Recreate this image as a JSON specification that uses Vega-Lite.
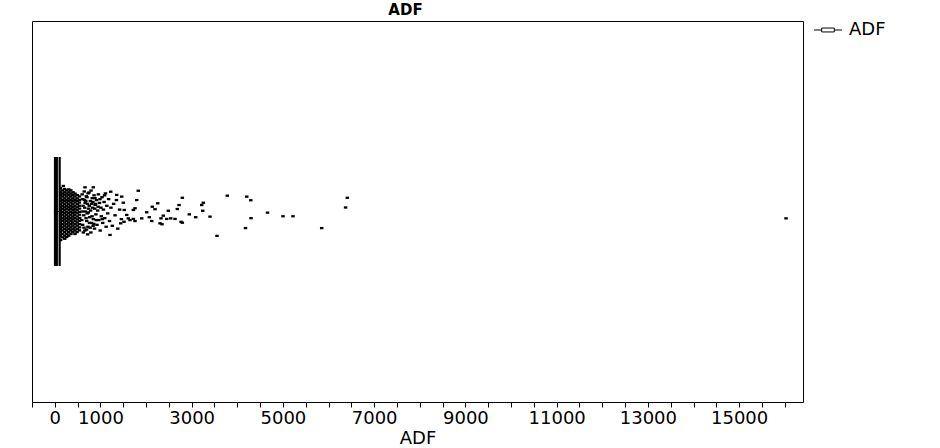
{
  "$schema": "https://vega.github.io/schema/vega-lite/v6.json",
  "width": 771,
  "height": 381,
  "autosize": {"type": "none"},
  "padding": {"left": 32, "top": 21, "right": 137, "bottom": 46},
  "background": "white",
  "title": {"text": "ADF", "font": "DejaVu Sans", "fontSize": 15, "fontWeight": "bold", "color": "black", "anchor": "middle", "offset": 3, "dx": -12},
  "config": {
    "view": {"stroke": "black", "strokeWidth": 1},
    "axis": {"grid": false}
  },
  "datasets": {
    "box": [{"v": -20, "v2": 130, "ylo": -0.286, "yhi": 0.286, "med": 0, "s": "ADF"}],
    "pts": [
      {"v":35,"j":0.118},{"v":35,"j":0.101},{"v":35,"j":0.086},{"v":35,"j":0.069},{"v":35,"j":0.055},{"v":35,"j":0.038},{"v":35,"j":0.022},{"v":35,"j":0.007},{"v":35,"j":-0.009},{"v":35,"j":-0.026},{"v":35,"j":-0.041},{"v":35,"j":-0.058},{"v":35,"j":-0.074},{"v":35,"j":-0.091},{"v":35,"j":-0.108},{"v":35,"j":-0.127},{"v":35,"j":-0.145},
      {"v":80,"j":0.111},{"v":80,"j":0.094},{"v":80,"j":0.079},{"v":80,"j":0.061},{"v":80,"j":0.047},{"v":80,"j":0.030},{"v":80,"j":0.015},{"v":80,"j":-0.002},{"v":80,"j":-0.017},{"v":80,"j":-0.034},{"v":80,"j":-0.049},{"v":80,"j":-0.066},{"v":80,"j":-0.083},{"v":80,"j":-0.099},{"v":80,"j":-0.118},{"v":80,"j":-0.136},
      {"v":125,"j":0.122},{"v":128,"j":0.101},{"v":122,"j":0.086},{"v":126,"j":0.069},{"v":130,"j":0.055},{"v":124,"j":0.038},{"v":125,"j":0.022},{"v":127,"j":0.007},{"v":121,"j":-0.009},{"v":125,"j":-0.026},{"v":129,"j":-0.041},{"v":123,"j":-0.058},{"v":125,"j":-0.074},{"v":126,"j":-0.091},{"v":124,"j":-0.108},{"v":125,"j":-0.127},{"v":128,"j":-0.150},
      {"v":170,"j":0.111},{"v":172,"j":0.094},{"v":168,"j":0.079},{"v":170,"j":0.061},{"v":173,"j":0.047},{"v":169,"j":0.030},{"v":170,"j":0.015},{"v":171,"j":-0.002},{"v":167,"j":-0.017},{"v":170,"j":-0.034},{"v":174,"j":-0.049},{"v":170,"j":-0.066},{"v":168,"j":-0.083},{"v":170,"j":-0.099},{"v":172,"j":-0.118},{"v":170,"j":-0.136},
      {"v":215,"j":0.118},{"v":218,"j":0.101},{"v":212,"j":0.086},{"v":215,"j":0.069},{"v":217,"j":0.055},{"v":214,"j":0.038},{"v":215,"j":0.022},{"v":219,"j":0.007},{"v":213,"j":-0.009},{"v":215,"j":-0.026},{"v":216,"j":-0.041},{"v":212,"j":-0.058},{"v":215,"j":-0.074},{"v":218,"j":-0.091},{"v":214,"j":-0.108},{"v":215,"j":-0.127},{"v":217,"j":-0.143},
      {"v":260,"j":0.111},{"v":262,"j":0.094},{"v":258,"j":0.079},{"v":260,"j":0.061},{"v":263,"j":0.047},{"v":259,"j":0.030},{"v":260,"j":0.015},{"v":261,"j":-0.002},{"v":257,"j":-0.017},{"v":260,"j":-0.034},{"v":264,"j":-0.049},{"v":260,"j":-0.066},{"v":258,"j":-0.083},{"v":260,"j":-0.099},{"v":262,"j":-0.118},{"v":260,"j":-0.134},
      {"v":305,"j":0.116},{"v":308,"j":0.101},{"v":302,"j":0.086},{"v":305,"j":0.069},{"v":307,"j":0.055},{"v":304,"j":0.038},{"v":305,"j":0.022},{"v":309,"j":0.007},{"v":303,"j":-0.009},{"v":305,"j":-0.026},{"v":306,"j":-0.041},{"v":302,"j":-0.058},{"v":305,"j":-0.074},{"v":308,"j":-0.091},{"v":304,"j":-0.108},{"v":305,"j":-0.127},
      {"v":350,"j":0.111},{"v":352,"j":0.094},{"v":348,"j":0.079},{"v":350,"j":0.061},{"v":353,"j":0.047},{"v":349,"j":0.030},{"v":350,"j":0.015},{"v":351,"j":-0.002},{"v":347,"j":-0.017},{"v":350,"j":-0.034},{"v":354,"j":-0.049},{"v":350,"j":-0.066},{"v":348,"j":-0.083},{"v":350,"j":-0.099},{"v":352,"j":-0.118},
      {"v":398,"j":0.101},{"v":392,"j":0.086},{"v":395,"j":0.069},{"v":397,"j":0.055},{"v":394,"j":0.038},{"v":395,"j":0.022},{"v":399,"j":0.007},{"v":393,"j":-0.009},{"v":395,"j":-0.026},{"v":396,"j":-0.041},{"v":392,"j":-0.058},{"v":395,"j":-0.074},{"v":398,"j":-0.091},{"v":394,"j":-0.108},
      {"v":442,"j":0.094},{"v":438,"j":0.079},{"v":440,"j":0.061},{"v":443,"j":0.047},{"v":439,"j":0.030},{"v":440,"j":0.015},{"v":441,"j":-0.002},{"v":437,"j":-0.017},{"v":440,"j":-0.034},{"v":444,"j":-0.049},{"v":440,"j":-0.066},{"v":438,"j":-0.083},{"v":440,"j":-0.099},{"v":442,"j":-0.118},
      {"v":492,"j":0.086},{"v":488,"j":0.069},{"v":490,"j":0.055},{"v":494,"j":0.038},{"v":490,"j":0.022},{"v":487,"j":0.007},{"v":491,"j":-0.009},{"v":490,"j":-0.026},{"v":493,"j":-0.041},{"v":489,"j":-0.058},{"v":490,"j":-0.074},{"v":492,"j":-0.091},{"v":488,"j":-0.108},
      {"v":540,"j":0.079},{"v":543,"j":0.061},{"v":538,"j":0.047},{"v":540,"j":0.030},{"v":542,"j":0.015},{"v":539,"j":-0.002},{"v":540,"j":-0.017},{"v":544,"j":-0.034},{"v":538,"j":-0.049},{"v":540,"j":-0.066},{"v":541,"j":-0.083},{"v":539,"j":-0.099},
      {"v":600,"j":0.09},{"v":610,"j":-0.07},{"v":620,"j":0.03},{"v":635,"j":-0.02},{"v":650,"j":0.06},{"v":660,"j":-0.10},{"v":670,"j":0.0},{"v":690,"j":0.08},{"v":700,"j":-0.05},{"v":715,"j":0.04},{"v":725,"j":-0.08},{"v":740,"j":0.015},{"v":750,"j":0.10},{"v":765,"j":-0.03},{"v":780,"j":0.055},{"v":790,"j":-0.11},{"v":805,"j":-0.06},{"v":820,"j":0.07},{"v":830,"j":0.02},{"v":845,"j":-0.04},{"v":860,"j":0.085},{"v":870,"j":-0.09},{"v":885,"j":0.035},{"v":900,"j":-0.015},{"v":915,"j":0.06},{"v":925,"j":-0.07},{"v":940,"j":0.005},{"v":955,"j":0.09},{"v":965,"j":-0.045},{"v":980,"j":0.045},{"v":995,"j":-0.10},{"v":1010,"j":0.02},{"v":1020,"j":-0.025},{"v":1035,"j":0.075},{"v":1050,"j":-0.06},{"v":1065,"j":0.01},{"v":1080,"j":0.05},{"v":1095,"j":-0.035},{"v":1110,"j":0.095},{"v":1125,"j":-0.08},{"v":1140,"j":0.03},{"v":1160,"j":-0.01},{"v":1180,"j":0.065},{"v":1200,"j":-0.05},{"v":1230,"j":0.02},{"v":1260,"j":-0.075},{"v":1290,"j":0.04},{"v":1320,"j":-0.02},{"v":1350,"j":0.06},{"v":1380,"j":-0.09},{"v":1420,"j":0.01},{"v":1460,"j":-0.04},
      {"v":605,"j":0.0},{"v":625,"j":-0.11},{"v":645,"j":0.105},{"v":665,"j":0.045},{"v":685,"j":-0.035},{"v":705,"j":0.075},{"v":720,"j":-0.12},{"v":735,"j":-0.005},{"v":755,"j":0.03},{"v":775,"j":-0.085},{"v":795,"j":0.11},{"v":815,"j":-0.025},{"v":835,"j":0.05},{"v":855,"j":-0.065},{"v":875,"j":0.015},{"v":895,"j":0.04},{"v":590,"j":-0.045},{"v":615,"j":0.065},{"v":640,"j":-0.085},{"v":655,"j":0.02},{"v":680,"j":0.055},{"v":695,"j":-0.095},{"v":710,"j":-0.01},{"v":730,"j":0.095},{"v":760,"j":-0.06},{"v":785,"j":0.005},{"v":810,"j":0.04},{"v":840,"j":-0.075},{"v":880,"j":0.07},{"v":910,"j":-0.045},{"v":950,"j":0.025},{"v":990,"j":0.065},{"v":1040,"j":-0.04},{"v":1090,"j":0.085},
      {"v":3781,"j":0.083},{"v":4207,"j":0.078},{"v":4296,"j":0.059},{"v":4662,"j":-0.006},{"v":5002,"j":-0.025},{"v":5221,"j":-0.025},{"v":4301,"j":-0.035},{"v":4180,"j":-0.087},{"v":5850,"j":-0.087},{"v":6412,"j":0.072},{"v":6374,"j":0.021},{"v":3555,"j":-0.128},{"v":16028,"j":-0.036},
      {"v":2795,"j":0.072},{"v":1830,"j":0.109},{"v":1225,"j":0.104},{"v":1357,"j":0.087},{"v":1466,"j":0.078},{"v":1795,"j":0.060},{"v":1502,"j":0.046},{"v":2256,"j":0.043},{"v":2723,"j":0.034},{"v":3255,"j":0.046},{"v":3220,"j":0.034},{"v":2137,"j":0.025},{"v":2196,"j":0.012},{"v":2685,"j":0.013},{"v":2488,"j":0.004},{"v":1758,"j":0.017},{"v":1721,"j":0.008},{"v":3242,"j":0.004},{"v":2014,"j":-0.004},{"v":2948,"j":-0.015},{"v":3089,"j":-0.030},{"v":3402,"j":-0.027},{"v":2378,"j":-0.022},{"v":2328,"j":-0.036},{"v":2071,"j":-0.030},{"v":2124,"j":-0.050},{"v":1905,"j":-0.036},{"v":2453,"j":-0.039},{"v":2541,"j":-0.036},{"v":2635,"j":-0.039},{"v":2766,"j":-0.054},{"v":2795,"j":-0.059},{"v":2306,"j":-0.062},{"v":2350,"j":-0.067},{"v":1611,"j":-0.036},{"v":1648,"j":-0.045},{"v":1721,"j":-0.039},{"v":1758,"j":-0.050},{"v":1517,"j":-0.054},{"v":1445,"j":-0.062},{"v":1210,"j":-0.123},{"v":1523,"j":0.008},{"v":1576,"j":-0.018},{"v":662,"j":0.127},{"v":844,"j":0.127},{"v":186,"j":0.134}
    ]
  },
  "encoding": {
    "x": {
      "field": "v", "type": "quantitative",
      "scale": {"domain": [-500, 16400], "nice": false, "zero": false},
      "axis": {
        "title": "ADF",
        "titleFont": "DejaVu Sans", "titleFontSize": 18, "titleFontWeight": "normal", "titleColor": "black", "titlePadding": 2,
        "values": [-500,0,500,1000,1500,2000,2500,3000,3500,4000,4500,5000,5500,6000,6500,7000,7500,8000,8500,9000,9500,10000,10500,11000,11500,12000,12500,13000,13500,14000,14500,15000,15500,16000],
        "labelExpr": "(datum.value == 0 || datum.value == 1000 || datum.value == 3000 || datum.value == 5000 || datum.value == 7000 || datum.value == 9000 || datum.value == 11000 || datum.value == 13000 || datum.value == 15000) ? '' + datum.value : ''",
        "labelFont": "DejaVu Sans", "labelFontSize": 18, "labelColor": "black",
        "labelOverlap": false, "labelFlush": false, "labelBound": false, "labelPadding": 2,
        "domain": false,
        "tickColor": "black",
        "tickSize": 5
      }
    }
  },
  "layer": [
    {
      "data": {"name": "pts"},
      "mark": {"type": "point", "filled": true, "shape": "M-1,-0.67H1V0.67H-1Z", "size": 12, "opacity": 1, "color": "black"},
      "encoding": {
        "y": {"field": "j", "type": "quantitative", "scale": {"domain": [-1, 1], "nice": false}, "axis": null}
      }
    },
    {
      "data": {"name": "box"},
      "mark": {"type": "rect", "color": "black"},
      "encoding": {
        "x2": {"field": "v2"},
        "y": {"field": "ylo", "type": "quantitative"},
        "y2": {"field": "yhi"}
      }
    },
    {
      "data": {"name": "box"},
      "mark": {"type": "rule", "color": "#a0a0a0", "strokeWidth": 1, "xOffset": 4.5},
      "encoding": {
        "y": {"field": "ylo", "type": "quantitative"},
        "y2": {"field": "yhi"}
      }
    },
    {
      "data": {"name": "box"},
      "mark": {"type": "rule", "strokeWidth": 1},
      "encoding": {
        "x2": {"field": "v2"},
        "y": {"field": "med", "type": "quantitative"},
        "color": {
          "field": "s", "type": "nominal",
          "scale": {"range": ["black"]},
          "legend": {
            "title": null,
            "orient": "right",
            "offset": 16,
            "padding": 0,
            "symbolType": "M-2,0H-0.9M0.9,0H2M-0.9,-0.28H0.9V0.28H-0.9Z",
            "symbolSize": 196,
            "symbolStrokeWidth": 1,
            "symbolFillColor": "white",
            "labelFont": "DejaVu Sans",
            "labelFontSize": 18,
            "labelColor": "black",
            "labelOffset": 12
          }
        }
      }
    }
  ]
}
